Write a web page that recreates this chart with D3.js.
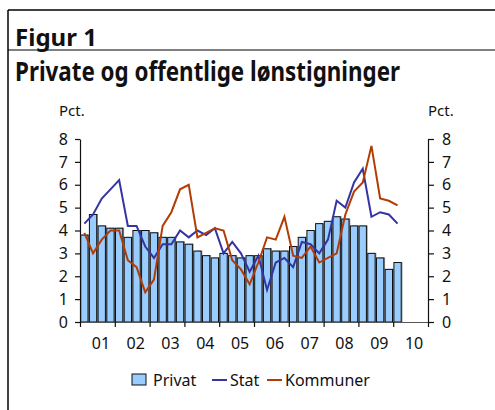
<!DOCTYPE html>
<html>
<head>
<meta charset="utf-8">
<script src="https://cdn.jsdelivr.net/npm/d3@7"></script>
<style>
  body { margin: 0; background: #fff; }
  svg text { font-family: "Noto Sans", sans-serif; fill: #111; }
</style>
</head>
<body>
<div id="chart"></div>
<script>
const WIDTH = 495;
const HEIGHT = 410;

// quarters 2001K1 .. 2010K4, data runs to 2010K1
const years = ["01","02","03","04","05","06","07","08","09","10"];
const quarters = [];
years.forEach(y => [1,2,3,4].forEach(q => quarters.push(y + "K" + q)));

const privat = [3.8,4.7,4.2,4.1,4.1,3.7,4.0,4.0,3.9,3.7,3.7,3.5,3.4,3.1,2.9,2.8,3.0,2.9,2.8,2.9,
                2.9,3.2,3.1,3.1,3.3,3.7,4.0,4.3,4.4,4.6,4.5,4.2,4.2,3.0,2.8,2.3,2.6];
const stat = [4.3,4.7,5.4,5.8,6.2,4.2,4.2,3.3,2.8,3.4,3.4,4.0,3.7,4.0,3.8,4.1,3.0,3.5,3.0,2.2,
              2.9,1.4,2.6,2.8,2.4,3.5,3.4,3.0,3.6,5.3,5.0,6.1,6.7,4.6,4.8,4.7,4.3];
const kommuner = [3.9,3.0,3.6,4.0,4.0,2.7,2.4,1.3,1.85,4.2,4.8,5.8,6.0,3.7,3.9,4.1,4.0,2.7,2.3,1.65,
                  2.6,3.7,3.6,4.6,2.9,2.8,3.3,2.6,2.8,3.0,4.7,5.7,6.1,7.7,5.4,5.3,5.1];
const yTicks = [0,1,2,3,4,5,6,7,8];

const BAR_FILL = "#99ccff";
const STAT_COLOR = "#3434a4";
const KOMM_COLOR = "#b23c06";

function setup(){
    let svg = d3.select("#chart")
        .append("svg")
        .attr("width",WIDTH)
        .attr("height",HEIGHT);

    // frame
    svg.append("line").attr("x1",8).attr("x2",WIDTH).attr("y1",10).attr("y2",10)
        .style("stroke","#000").style("stroke-width",1.5);
    svg.append("line").attr("x1",8).attr("x2",8).attr("y1",10).attr("y2",HEIGHT)
        .style("stroke","#000").style("stroke-width",1.5);
    svg.append("line").attr("x1",8).attr("x2",WIDTH).attr("y1",50).attr("y2",50)
        .style("stroke","#000").style("stroke-width",1.2);

    svg.append("text")
        .attr("x",15).attr("y",45.5)
        .attr("textLength",82).attr("lengthAdjust","spacingAndGlyphs")
        .style("font-size","24px").style("font-weight","bold")
        .text("Figur 1");
    svg.append("text")
        .attr("x",15).attr("y",81)
        .attr("textLength",385).attr("lengthAdjust","spacingAndGlyphs")
        .style("font-size","26px").style("font-weight","bold")
        .text("Private og offentlige lønstigninger");

    let left = 80, right = 428, top = 139, bottom = 322;

    let x = d3.scaleBand()
        .domain(quarters)
        .range([left,right])
        .paddingInner(0.16)
        .paddingOuter(0.08);
    let xYear = d3.scaleLinear()
        .domain([0,years.length])
        .range([left,right]);
    let y = d3.scaleLinear()
        .domain([0,8])
        .range([bottom,top]);

    // bars with a grey shadow
    let bars = svg.append("g");
    bars.selectAll(".shadow")
        .data(privat)
        .enter()
        .append("rect")
        .attr("class","shadow")
        .attr("x",(d,i)=>x(quarters[i])+1.3)
        .attr("y",d=>y(d)-0.5)
        .attr("width",x.bandwidth())
        .attr("height",d=>bottom-y(d)+0.5)
        .style("fill","#999");
    bars.selectAll(".bar")
        .data(privat)
        .enter()
        .append("rect")
        .attr("class","bar")
        .attr("x",(d,i)=>x(quarters[i]))
        .attr("y",d=>y(d))
        .attr("width",x.bandwidth())
        .attr("height",d=>bottom-y(d))
        .style("fill",BAR_FILL)
        .style("stroke","#111")
        .style("stroke-width",1);

    // lines
    let line = d3.line()
        .x((d,i)=>x(quarters[i])+x.bandwidth()/2)
        .y(d=>y(d));
    svg.append("path").datum(stat).attr("d",line)
        .style("fill","none").style("stroke",STAT_COLOR).style("stroke-width",2);
    svg.append("path").datum(kommuner).attr("d",line)
        .style("fill","none").style("stroke",KOMM_COLOR).style("stroke-width",2);

    // axes
    let yLeft = svg.append("g")
        .attr("transform",`translate(${left},0)`)
        .call(d3.axisLeft(y).tickValues(yTicks).tickSize(5).tickPadding(7).tickSizeOuter(0));
    let yRight = svg.append("g")
        .attr("transform",`translate(${right},0)`)
        .call(d3.axisRight(y).tickValues(yTicks).tickSize(6).tickPadding(8).tickSizeOuter(0));
    let xAxis = svg.append("g")
        .attr("transform",`translate(0,${bottom})`)
        .call(d3.axisBottom(xYear).tickValues(d3.range(years.length+1)).tickFormat("").tickSize(5).tickSizeOuter(0));

    [yLeft,yRight,xAxis].forEach(a=>{
        a.selectAll("path").style("stroke","#111").style("stroke-width",1.2);
        a.selectAll("line").style("stroke","#111").style("stroke-width",1.2);
        a.selectAll("text").style("font-size","16px").style("font-family","Noto Sans").style("fill","#111");
    });
    xAxis.select("path").style("stroke","#555");

    svg.append("g").selectAll("text")
        .data(years)
        .enter()
        .append("text")
        .attr("x",(d,i)=>xYear(i+0.5)+3.5)
        .attr("y",349)
        .attr("text-anchor","middle")
        .style("font-size","16px")
        .text(d=>d);

    svg.append("text").attr("x",59).attr("y",116).style("font-size","15px").text("Pct.");
    svg.append("text").attr("x",428).attr("y",116).style("font-size","15px").text("Pct.");

    // legend
    let legend = svg.append("g");
    legend.append("rect").attr("x",132).attr("y",374).attr("width",14).attr("height",11)
        .style("fill",BAR_FILL).style("stroke","#111").style("stroke-width",1);
    legend.append("text").attr("x",153).attr("y",386).style("font-size","16px").text("Privat");
    legend.append("line").attr("x1",212).attr("x2",227).attr("y1",380).attr("y2",380)
        .style("stroke",STAT_COLOR).style("stroke-width",2);
    legend.append("text").attr("x",230).attr("y",386).style("font-size","16px").text("Stat");
    legend.append("line").attr("x1",267).attr("x2",282).attr("y1",380).attr("y2",380)
        .style("stroke",KOMM_COLOR).style("stroke-width",2);
    legend.append("text").attr("x",285).attr("y",386).style("font-size","16px").text("Kommuner");
}

window.addEventListener("load",setup);
</script>
</body>
</html>
